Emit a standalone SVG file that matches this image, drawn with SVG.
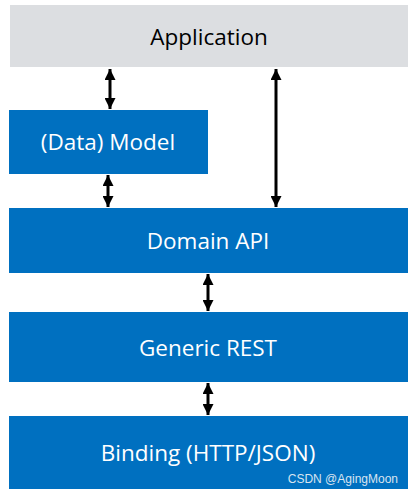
<svg xmlns="http://www.w3.org/2000/svg" width="415" height="496" viewBox="0 0 415 496">
<defs>
<marker id="ah" viewBox="0 0 11 11" refX="11" refY="5.5" markerWidth="11" markerHeight="11" markerUnits="userSpaceOnUse" orient="auto-start-reverse">
<path d="M0,0 L11,5.5 L0,11 Z" fill="#000"/>
</marker>
</defs>
<style>
.blue{fill:#0070c0}
.lbl{font-family:"Open Sans","Liberation Sans",sans-serif;font-size:22.5px;text-anchor:middle;fill:#fff}
.conn{stroke:#000;stroke-width:3;fill:none;marker-start:url(#ah);marker-end:url(#ah)}
</style>
<rect width="415" height="496" fill="#fff"/>
<g id="application">
<rect x="10" y="5" width="398" height="62" fill="#dcdee1"/>
<text class="lbl" x="209" y="45" style="fill:#000">Application</text>
</g>
<g id="data-model">
<rect class="blue" x="9" y="110" width="199" height="64"/>
<text class="lbl" x="108" y="150">(Data) Model</text>
</g>
<g id="domain-api">
<rect class="blue" x="9" y="208" width="399" height="65"/>
<text class="lbl" x="208" y="249">Domain API</text>
</g>
<g id="generic-rest">
<rect class="blue" x="9" y="312" width="399" height="70"/>
<text class="lbl" x="208" y="356">Generic REST</text>
</g>
<g id="binding">
<rect class="blue" x="9" y="416" width="399" height="73"/>
<text class="lbl" x="208" y="461">Binding (HTTP/JSON)</text>
<text x="398" y="483" style="font-family:'Liberation Sans',sans-serif;font-size:12px;text-anchor:end;fill:#d8e4f0">CSDN @AgingMoon</text>
</g>
<g id="connectors">
<line class="conn" x1="110" y1="69" x2="110" y2="109"/>
<line class="conn" x1="276" y1="69" x2="276" y2="207"/>
<line class="conn" x1="108" y1="175" x2="108" y2="207"/>
<line class="conn" x1="208" y1="274" x2="208" y2="311"/>
<line class="conn" x1="208" y1="383" x2="208" y2="415"/>
</g>
</svg>
